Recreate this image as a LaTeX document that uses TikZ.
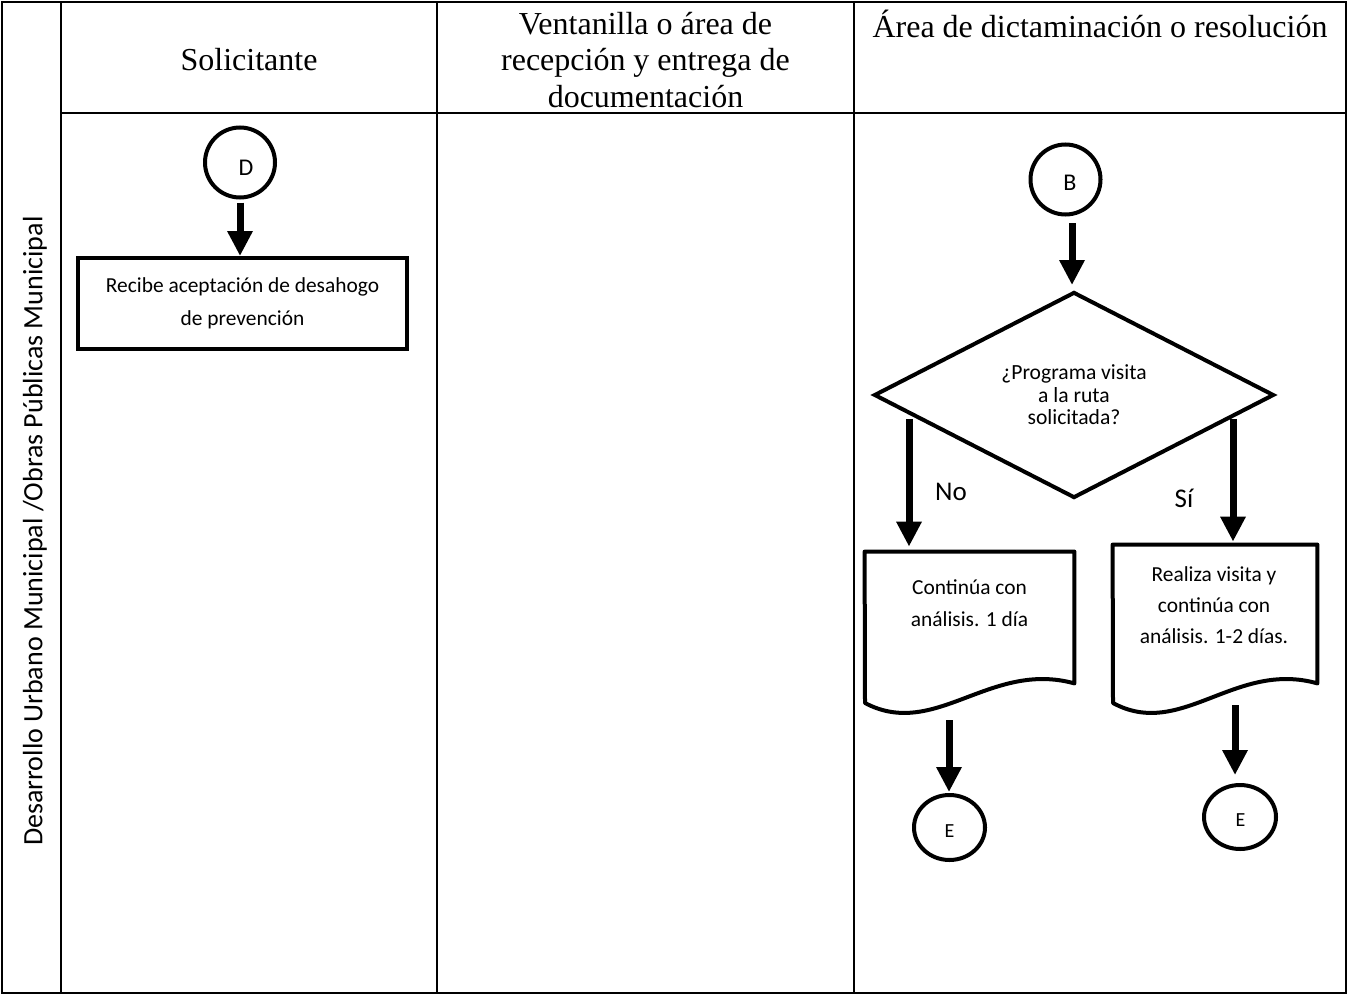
\documentclass[tikz,border=0pt]{standalone}
\usepackage{fontspec}
\setmainfont{Liberation Serif}
\newfontfamily\carlito{Carlito}
\usetikzlibrary{shapes.geometric,arrows.meta,calc}
\begin{document}
\begin{tikzpicture}[x=0.5pt,y=-0.5pt,
  tbl/.style={line width=1.4pt},
  hdr/.style={font=\fontsize{16pt}{18.25pt}\selectfont, align=center, inner sep=0pt},
  flow/.style={draw, line width=2pt},
  connector/.style={flow, circle, minimum size=35pt, inner sep=0pt},
  endconn/.style={flow, ellipse, inner sep=0pt},
  letter/.style={inner sep=0pt, font=\carlito\fontsize{12pt}{14pt}\selectfont},
  eletter/.style={inner sep=0pt, font=\carlito\fontsize{10pt}{12pt}\selectfont},
  procbox/.style={flow, rectangle, minimum width=164.5pt, minimum height=45.5pt, align=center, inner sep=0pt, font=\carlito\fontsize{10.7pt}{16.5pt}\selectfont},
  decision/.style={flow, diamond, minimum width=200pt, minimum height=103pt, inner sep=0pt, align=center, font=\carlito\fontsize{10.8pt}{11.25pt}\selectfont},
  docarea/.style={rectangle, inner sep=0pt},
  doctext/.style={align=center, inner sep=0pt, font=\carlito\fontsize{10.7pt}{16pt}\selectfont},
  lbl/.style={font=\carlito\fontsize{13.5pt}{16pt}\selectfont, inner sep=0pt},
  arr/.style={line width=3.5pt, -{Triangle[width=12pt,length=12.5pt]}},
]
\useasboundingbox (0,0) rectangle (1349,995);

% table
\draw[tbl] (2,2) rectangle (1346,993);
\draw[tbl] (61,2) -- (61,993);
\draw[tbl] (437,2) -- (437,993);
\draw[tbl] (854,2) -- (854,993);
\draw[tbl] (61,113) -- (1346,113);

% headers
\node[hdr] (h1) at (249,60) {Solicitante};
\node[hdr] (h2) at (645.5,60) {Ventanilla o área de\\recepción y entrega de\\documentación};
\node[hdr] (h3) at (1100,24) {Área de dictaminación o resolución};

% side label
\node[font=\carlito\fontsize{14pt}{16pt}\selectfont, rotate=90, inner sep=0pt] (side) at (35,531) {Desarrollo Urbano Municipal /Obras Públicas Municipal};

% Solicitante lane
\node[connector] (D) at (240,162.5) {};
\node[letter] (Dl) at (246,167.5) {D};
\node[procbox] (recibe) at (242.5,303.5) {Recibe aceptación de desahogo\\de prevención};
\draw[arr, shorten <=1.5pt] (D.south) -- (D.south |- recibe.north);

% Dictaminacion lane
\node[connector] (B) at (1065.5,179.5) {};
\node[letter] (Bl) at (1070,183) {B};
\node[decision] (dia) at (1074,395) {¿Programa visita\\a la ruta\\solicitada?};
\draw[arr, shorten <=3.25pt, shorten >=2.5pt] ([xshift=3.25pt]B.south) -- ([xshift=3.25pt]B.south |- dia.north);

% document 1
\node[docarea, minimum width=104.5pt, minimum height=65.5pt] (doc1) at (969.5,617.5) {};
\draw[flow, line join=round] (doc1.north west) -- (doc1.north east) -- (doc1.south east)
  .. controls (990,660) and (935,740) .. (865,703) -- cycle;
\node[doctext] (doc1t) at (969.5,603) {Continúa con\\análisis. 1 día};

% document 2
\node[docarea, minimum width=102pt, minimum height=69pt] (doc2) at (1215,614) {};
\draw[flow, line join=round] (doc2.north west) -- (doc2.north east) -- (doc2.south east)
  .. controls (1235,660) and (1181,740) .. (1113,703) -- cycle;
\node[doctext, font=\carlito\fontsize{10.7pt}{15.5pt}\selectfont] (doc2t) at (1214,605) {Realiza visita y\\continúa con\\análisis. 1-2 días.};

% branch arrows
\coordinate (noStart) at (909,419);
\draw[arr, shorten >=2.5pt] (noStart) -- (noStart |- doc1.north);
\node[lbl] (no) at (951,492) {No};
\coordinate (siStart) at (1233,419);
\draw[arr, shorten >=1.5pt] (siStart) -- (siStart |- doc2.north);
\node[lbl] (si) at (1184,498) {Sí};

% end connectors
\node[endconn, minimum width=35.5pt, minimum height=32.5pt] (E1) at (949.5,827.5) {};
\node[eletter] (E1l) at (949.5,831.5) {E};
\node[endconn, minimum width=36pt, minimum height=32pt] (E2) at (1240,817) {};
\node[eletter] (E2l) at (1240.5,820) {E};
\coordinate (doc1out) at (949,720);
\draw[arr, shorten >=0.5pt] (doc1out) -- (doc1out |- E1.north);
\coordinate (doc2out) at (1235,705);
\draw[arr, shorten >=4pt] (doc2out) -- (doc2out |- E2.north);
\end{tikzpicture}
\end{document}
